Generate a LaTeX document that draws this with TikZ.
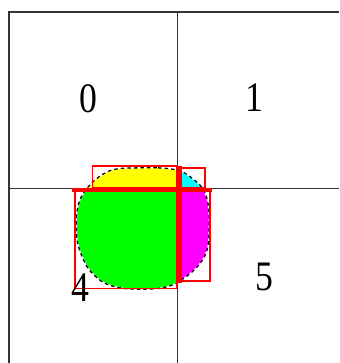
\documentclass[tikz,border=0pt]{standalone}
\usepackage{fontspec}
\setmainfont{Liberation Serif}
\definecolor{cyq}{RGB}{0,255,255}
\definecolor{mgq}{RGB}{255,0,255}
\definecolor{ylq}{RGB}{255,255,0}
\definecolor{grq}{RGB}{0,255,0}
\definecolor{rdq}{RGB}{255,0,0}
\begin{document}
\begin{tikzpicture}[x=1pt,y=-1pt,
  gridline/.style={draw=black!80,line width=1.6pt},
  bbox/.style={draw=rdq,line width=1.3pt},
  band/.style={fill=rdq},
  outline/.style={draw=black,line width=2.6pt,dash pattern=on 3.5pt off 3pt},
  lbl/.style={inner sep=0pt,font=\fontsize{42}{42}\selectfont,xscale=0.85}]
\useasboundingbox (0,0) rectangle (339,363);
\fill[white] (0,0) rectangle (339,363);
% grid
\draw[gridline] (339,12) -- (9,12) -- (9,363);
\draw[gridline] (177.5,12) -- (177.5,363);
\draw[gridline] (9,188.5) -- (339,188.5);
% outline of the shape
\draw[outline] plot[smooth cycle,tension=0.6] coordinates {
 (140,168.5) (158,168.5) (170,169.5) (178,171) (185,174) (192,179) (199,185)
 (204,192) (207,202) (208.5,215) (208.5,230) (207.5,245) (204,256) (198,265)
 (191,272) (183,278) (173,284) (160,287.5) (143,288.5) (126,288) (115,286)
 (104,282) (95,275) (88,267) (83,257) (79,246) (77,233) (77,218) (78.5,207)
 (81,199) (85,192) (90,186) (96,180) (103,175) (111,171) (122,169)};
% coloured quarters
\begin{scope}
\clip plot[smooth cycle,tension=0.6] coordinates {
 (140,168.5) (158,168.5) (170,169.5) (178,171) (185,174) (192,179) (199,185)
 (204,192) (207,202) (208.5,215) (208.5,230) (207.5,245) (204,256) (198,265)
 (191,272) (183,278) (173,284) (160,287.5) (143,288.5) (126,288) (115,286)
 (104,282) (95,275) (88,267) (83,257) (79,246) (77,233) (77,218) (78.5,207)
 (81,199) (85,192) (90,186) (96,180) (103,175) (111,171) (122,169)};
\fill[ylq] (60,150) rectangle (178,188.5);
\fill[cyq] (178,150) rectangle (230,188.5);
\fill[grq] (60,188.5) rectangle (178,300);
\fill[mgq] (178,188.5) rectangle (230,300);
\end{scope}
% bounding boxes
\draw[bbox] (92.7,166) rectangle (177,188);
\draw[bbox] (181,168) rectangle (205,188);
\draw[bbox] (75,189) rectangle (177,288.5);
\draw[bbox] (181,189) rectangle (210,281);
\fill[band] (72,188) rectangle (212,191.5);
\fill[band] (177,166) rectangle (182,283);
% labels
\node[lbl] (l0) at (88.5,98.5) {0};
\node[lbl] (l1) at (254,97.5) {1};
\node[lbl] (l4) at (80.5,287.5) {4};
\node[lbl] (l5) at (264,276.5) {5};
\end{tikzpicture}
\end{document}
